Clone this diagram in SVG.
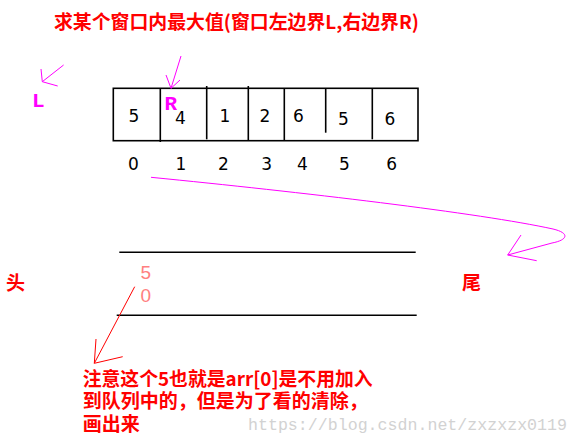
<svg xmlns="http://www.w3.org/2000/svg" width="577" height="443" viewBox="0 0 577 443">
<style>
.red{fill:#ff0000;font-family:"Noto Sans CJK SC","Noto Sans",sans-serif;font-weight:bold;font-size:19px}
.mag{fill:#ff00ff;font-family:"Liberation Mono",monospace;font-weight:bold;font-size:21px}
.num{fill:#000;font-family:"DejaVu Sans",sans-serif;font-size:17px;text-anchor:middle}
.pink{fill:#ff8080;font-family:"Liberation Sans",sans-serif;font-size:19px;text-anchor:middle}
.blk{stroke:#000;stroke-width:1.6;fill:none}
.mline{stroke:#ff00ff;stroke-width:1;fill:none}
.rline{stroke:#ff0000;stroke-width:1;fill:none}
.wm{fill:#d2d2d2;font-family:"Liberation Mono",monospace;font-size:16.6px}
</style>
<rect width="577" height="443" fill="#fff"/>
<g id="title"><text class="red" x="54" y="29" textLength="365" lengthAdjust="spacingAndGlyphs">求某个窗口内最大值(窗口左边界L,右边界R)</text></g>
<g id="labelL"><text class="mag" x="32" y="107">L</text></g>
<g id="labelR"><text class="mag" x="164.5" y="110">R</text></g>
<g id="array">
<rect class="blk" x="113.3" y="88.3" width="304.7" height="52.4"/>
<line class="blk" x1="160.3" y1="88" x2="160.3" y2="142"/>
<line class="blk" x1="206.7" y1="86" x2="206.7" y2="139.3"/>
<line class="blk" x1="248.3" y1="86" x2="248.3" y2="141"/>
<line class="blk" x1="284.3" y1="88" x2="284.3" y2="141"/>
<line class="blk" x1="325.7" y1="88" x2="325.7" y2="132.7"/>
<line class="blk" x1="372.3" y1="88" x2="372.3" y2="139.3"/>
<text class="num" x="134" y="121.7">5</text>
<text class="num" x="180.5" y="124">4</text>
<text class="num" x="225" y="121.7">1</text>
<text class="num" x="265" y="121.7">2</text>
<text class="num" x="298.3" y="121.7">6</text>
<text class="num" x="343.3" y="125">5</text>
<text class="num" x="390" y="125">6</text>
</g>
<g id="indices">
<text class="num" x="133.3" y="170">0</text>
<text class="num" x="181" y="170">1</text>
<text class="num" x="223.3" y="170">2</text>
<text class="num" x="266.7" y="170">3</text>
<text class="num" x="302.3" y="170">4</text>
<text class="num" x="344.3" y="170">5</text>
<text class="num" x="391.7" y="170">6</text>
</g>
<g id="queue">
<line class="blk" x1="119.3" y1="252.3" x2="415.7" y2="252.3"/>
<line class="blk" x1="116.7" y1="315.3" x2="416.7" y2="315.3"/>
<text class="pink" x="145.7" y="279.3">5</text>
<text class="pink" x="145.7" y="301.7">0</text>
</g>
<g id="head"><text class="red" x="6" y="290">头</text></g>
<g id="tail"><text class="red" x="462" y="290">尾</text></g>
<g id="note">
<text class="red" x="82.7" y="386" textLength="290" lengthAdjust="spacingAndGlyphs">注意这个5也就是arr[0]是不用加入</text>
<text class="red" x="82.7" y="408">到队列中的，但是为了看的清除，</text>
<text class="red" x="82.7" y="431">画出来</text>
</g>
<g id="watermark"><text class="wm" x="248" y="430" textLength="319" lengthAdjust="spacingAndGlyphs">https://blog.csdn.net/zxzxzx0119</text></g>
<g id="connectors">
<path class="mline" d="M63.6,65 L42.3,81.7 M41,69 L42.3,81.7 L57.7,86"/>
<path class="mline" d="M181,56 L171,88.3 M166,75 L171,88.3 L180,80"/>
<path class="mline" d="M151,177.3 C300,192 480,213 553,229 C570,233 568,240 552,243 L507.7,255 M521,235 L507.7,255 L536.7,260.7"/>
<path class="rline" d="M134.7,286.7 L94.3,363.3 M96,339 L94.3,363.3 L122.7,356.7"/>
</g>
</svg>
